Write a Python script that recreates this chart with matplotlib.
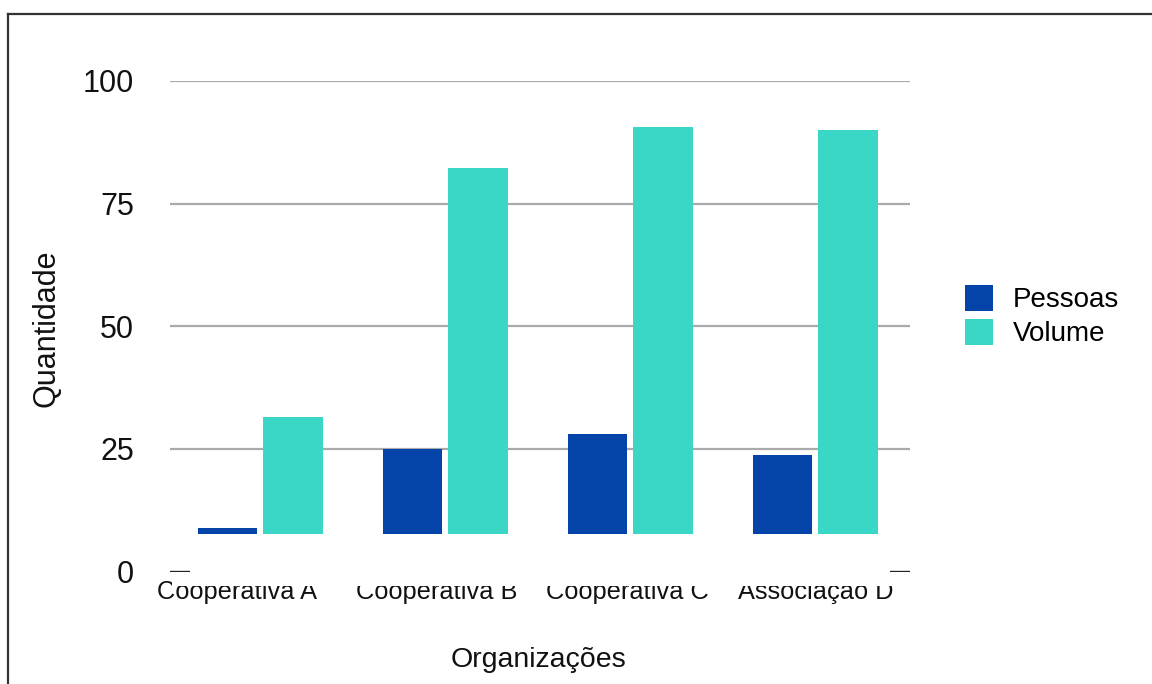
import matplotlib
matplotlib.use("Agg")
import matplotlib.pyplot as plt
from matplotlib.patches import Rectangle, Patch
from matplotlib.lines import Line2D
import numpy as np

plt.rcParams['font.family'] = ['Liberation Sans', 'DejaVu Sans']

categories = ["Cooperativa A", "Cooperativa B", "Cooperativa C", "Associação D"]
pessoas = [8.8, 25.0, 28.0, 23.8]
volume = [31.5, 82.3, 90.6, 90.0]
series_names = ["Pessoas", "Volume"]
yticks = [0, 25, 50, 75, 100]

C_PESSOAS = "#0443A8"
C_VOLUME = "#3AD6C6"
W, H = 1152, 684

fig = plt.figure(figsize=(W / 100, H / 100), dpi=100)

def fx(px):
    return px / W

def fy(py):
    return 1 - py / H

ax = fig.add_axes([fx(170), fy(571.5), fx(910) - fx(170), fy(81) - fy(571.5)])
x = np.arange(len(categories))
bw = 0.32
ax.bar(x - 0.19, pessoas, bw, color=C_PESSOAS, zorder=3)
ax.bar(x + 0.165, volume, bw, color=C_VOLUME, zorder=3)
ax.set_xlim(-0.5, len(categories) - 0.5)
ax.set_ylim(0, 100)
for v in yticks:
    if v == 0:
        ax.axhline(v, color="#222222", lw=2.4, zorder=1)
    else:
        ax.axhline(v, color="#aaaaaa", lw=1.6, zorder=1)
for s in ax.spines.values():
    s.set_visible(False)
ax.set_yticks(yticks)
ax.set_yticklabels([str(v) for v in yticks], fontsize=22, color="#111111")
ax.tick_params(axis='y', length=0, pad=26)
ax.set_xticks([])

label_shift = [-0.14, -0.06, -0.03, -0.01]
for i, lab in enumerate(categories):
    ax.text(i + label_shift[i], -4.2, lab, ha="center", va="center",
            fontsize=18.3, color="#111111", clip_on=False)

# masks
fig.patches.append(Rectangle((fx(190), fy(575)), fx(890) - fx(190), fy(534) - fy(575),
                             transform=fig.transFigure, facecolor="white",
                             edgecolor="none", zorder=10))
fig.patches.append(Rectangle((fx(172), fy(586)), fx(895) - fx(172), fy(575) - fy(586),
                             transform=fig.transFigure, facecolor="white",
                             edgecolor="none", zorder=10))

fig.text(fx(47), fy(328), "Quantidade", rotation=90, ha="center", va="center",
         fontsize=22, color="#111111")
fig.text(fx(538), fy(660), "Organizações", ha="center", va="center",
         fontsize=20.5, color="#111111")

handles = [Patch(facecolor=C_PESSOAS, edgecolor="none"),
           Patch(facecolor=C_VOLUME, edgecolor="none")]
fig.legend(handles, series_names, loc="upper left",
           bbox_to_anchor=(fx(965), fy(285)), frameon=False, fontsize=20,
           handlelength=1.0, handleheight=1.05, handletextpad=0.72,
           labelspacing=0.2, borderpad=0, borderaxespad=0)

# outer border (left and top)
fig.lines.append(Line2D([fx(8), fx(8)], [fy(14), 0], transform=fig.transFigure,
                        color="#333333", lw=1.6))
fig.lines.append(Line2D([fx(8), 1], [fy(14), fy(14)], transform=fig.transFigure,
                        color="#333333", lw=1.6))

fig.savefig("out.png", dpi=100)
